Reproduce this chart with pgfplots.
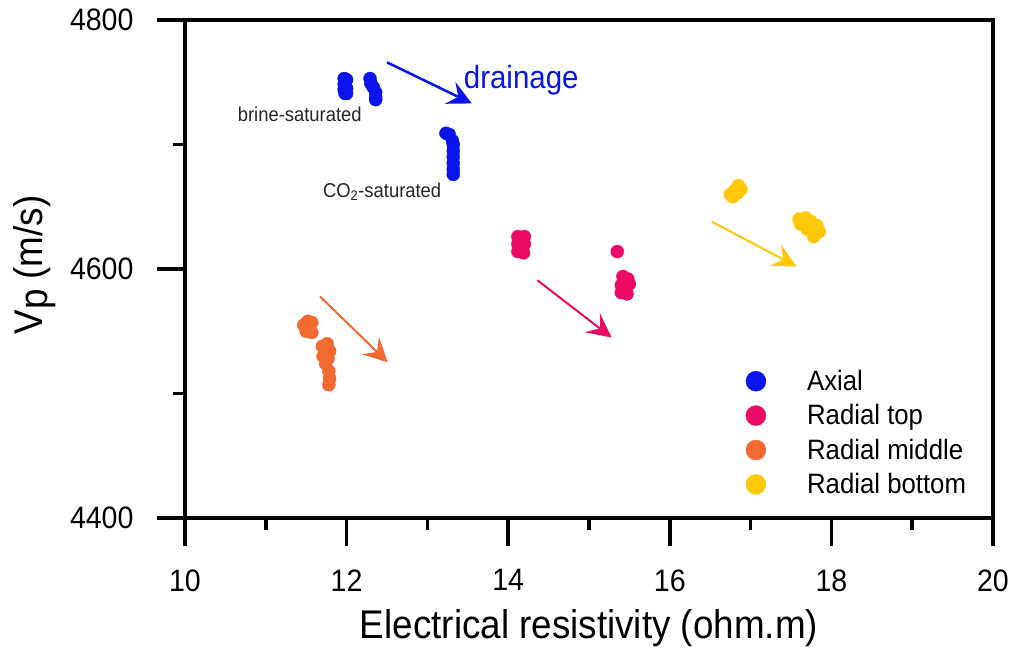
\documentclass[border=0pt]{standalone}
\usepackage{fontspec}
\setmainfont{Liberation Sans}[FakeStretch=0.92]
\usepackage{pgfplots}
\pgfplotsset{compat=1.18}
\usetikzlibrary{arrows.meta}
\definecolor{cax}{RGB}{10,20,235}
\definecolor{ctop}{RGB}{235,10,100}
\definecolor{cmid}{RGB}{242,105,50}
\definecolor{cbot}{RGB}{255,200,10}
\begin{document}
\begin{tikzpicture}
\useasboundingbox (-185pt,-136pt) rectangle (828pt,518pt);
\begin{axis}[
  scale only axis, width=808pt, height=498pt,
  at={(0pt,0pt)}, anchor=south west,
  xmin=10, xmax=20, ymin=4400, ymax=4800,
  xtick={10,12,14,16,18,20}, ytick={4400,4600,4800},
  minor x tick num=1, minor y tick num=1,
  tick align=outside, tick pos=left,
  major tick length=28pt, minor tick length=12pt,
  every tick/.style={black, line width=3.5pt},
  axis line style={line width=4pt},
  /pgf/number format/assume math mode=true,
  /pgf/number format/1000 sep={},
  ticklabel style={font=\fontsize{31}{31}\selectfont},
  xticklabel style={yshift=-20pt},
  yticklabel style={xshift=-20pt},
  xlabel={Electrical resistivity (ohm.m)},
  ylabel={V\raisebox{-0.25ex}{p} (m/s)},
  label style={font=\fontsize{40}{40}\selectfont},
  xlabel style={at={(axis description cs:0.5,-0.221)}, anchor=center},
  ylabel style={at={(axis description cs:-0.186,0.508)}, anchor=center},
  legend style={draw=none, fill=none, at={(axis description cs:0.69,0.305)}, anchor=north west,
    font=\fontsize{28}{28}\selectfont, row sep=8.6pt, cells={anchor=west}},
  legend image code/.code={\fill (12pt,0pt) circle (10pt); \node[inner sep=0pt, minimum size=0pt, draw=none, fill=none] at (61pt,0pt) {};},
]
\addplot[only marks, mark=*, mark size=6.5pt, color=cax, mark options={draw=cax, fill=cax}] coordinates {
 (11.97,4753) (11.97,4748) (11.97,4744) (11.98,4741) (12.00,4752) (12.00,4745) (12.00,4741)
 (12.29,4753) (12.30,4749) (12.33,4746) (12.36,4742) (12.36,4738) (12.36,4736)
 (13.23,4709) (13.27,4708) (13.31,4703) (13.32,4700) (13.32,4695) (13.32,4690) (13.32,4685) (13.32,4680) (13.32,4676)
};
\addlegendentry{Axial}
\addplot[only marks, mark=*, mark size=6.5pt, color=ctop, mark options={draw=ctop, fill=ctop}] coordinates {
 (14.12,4626) (14.20,4626) (14.12,4620) (14.20,4620) (14.12,4614) (14.19,4613) (14.15,4623) (14.16,4616)
 (15.35,4614)
 (15.42,4594) (15.48,4592) (15.50,4588) (15.40,4587) (15.45,4585) (15.40,4581) (15.47,4580) (15.44,4590)
};
\addlegendentry{Radial top}
\addplot[only marks, mark=*, mark size=6.5pt, color=cmid, mark options={draw=cmid, fill=cmid}] coordinates {
 (11.47,4555) (11.52,4558) (11.57,4557) (11.50,4550) (11.57,4549) (11.53,4553)
 (11.70,4538) (11.76,4540) (11.79,4534) (11.71,4530) (11.77,4528) (11.74,4524)
 (11.78,4518) (11.79,4512) (11.78,4507)
};
\addlegendentry{Radial middle}
\addplot[only marks, mark=*, mark size=6.5pt, color=cbot, mark options={draw=cbot, fill=cbot}] coordinates {
 (16.75,4660) (16.80,4663) (16.85,4667) (16.88,4664) (16.78,4658) (16.84,4661)
 (17.60,4640) (17.68,4641) (17.75,4638) (17.82,4635) (17.85,4630) (17.78,4626) (17.70,4632) (17.62,4636) (17.80,4631)
};
\addlegendentry{Radial bottom}
\draw[cax, line width=2.5pt, -{Stealth[length=24pt, width=24pt, inset=9pt]}] (axis cs:12.50,4766) -- (axis cs:13.55,4733);
\draw[cmid, line width=2pt, -{Stealth[length=24pt, width=24pt, inset=9pt]}] (axis cs:11.67,4578) -- (axis cs:12.51,4525);
\draw[ctop, line width=2pt, -{Stealth[length=24pt, width=24pt, inset=9pt]}] (axis cs:14.36,4591) -- (axis cs:15.28,4545);
\draw[cbot, line width=2pt, -{Stealth[length=24pt, width=24pt, inset=9pt]}] (axis cs:16.52,4638) -- (axis cs:17.57,4602);
\node[cax, anchor=west, font=\fontsize{32}{32}\selectfont, inner sep=0pt] at (axis cs:13.45,4752) {drainage};
\node[black!85, anchor=center, font=\fontsize{20}{20}\selectfont, inner sep=0pt] at (axis cs:11.42,4724) {brine-saturated};
\node[black!85, anchor=center, font=\fontsize{20}{20}\selectfont, inner sep=0pt] at (axis cs:12.44,4662) {CO\textsubscript{2}-saturated};
\end{axis}
\end{tikzpicture}
\end{document}
